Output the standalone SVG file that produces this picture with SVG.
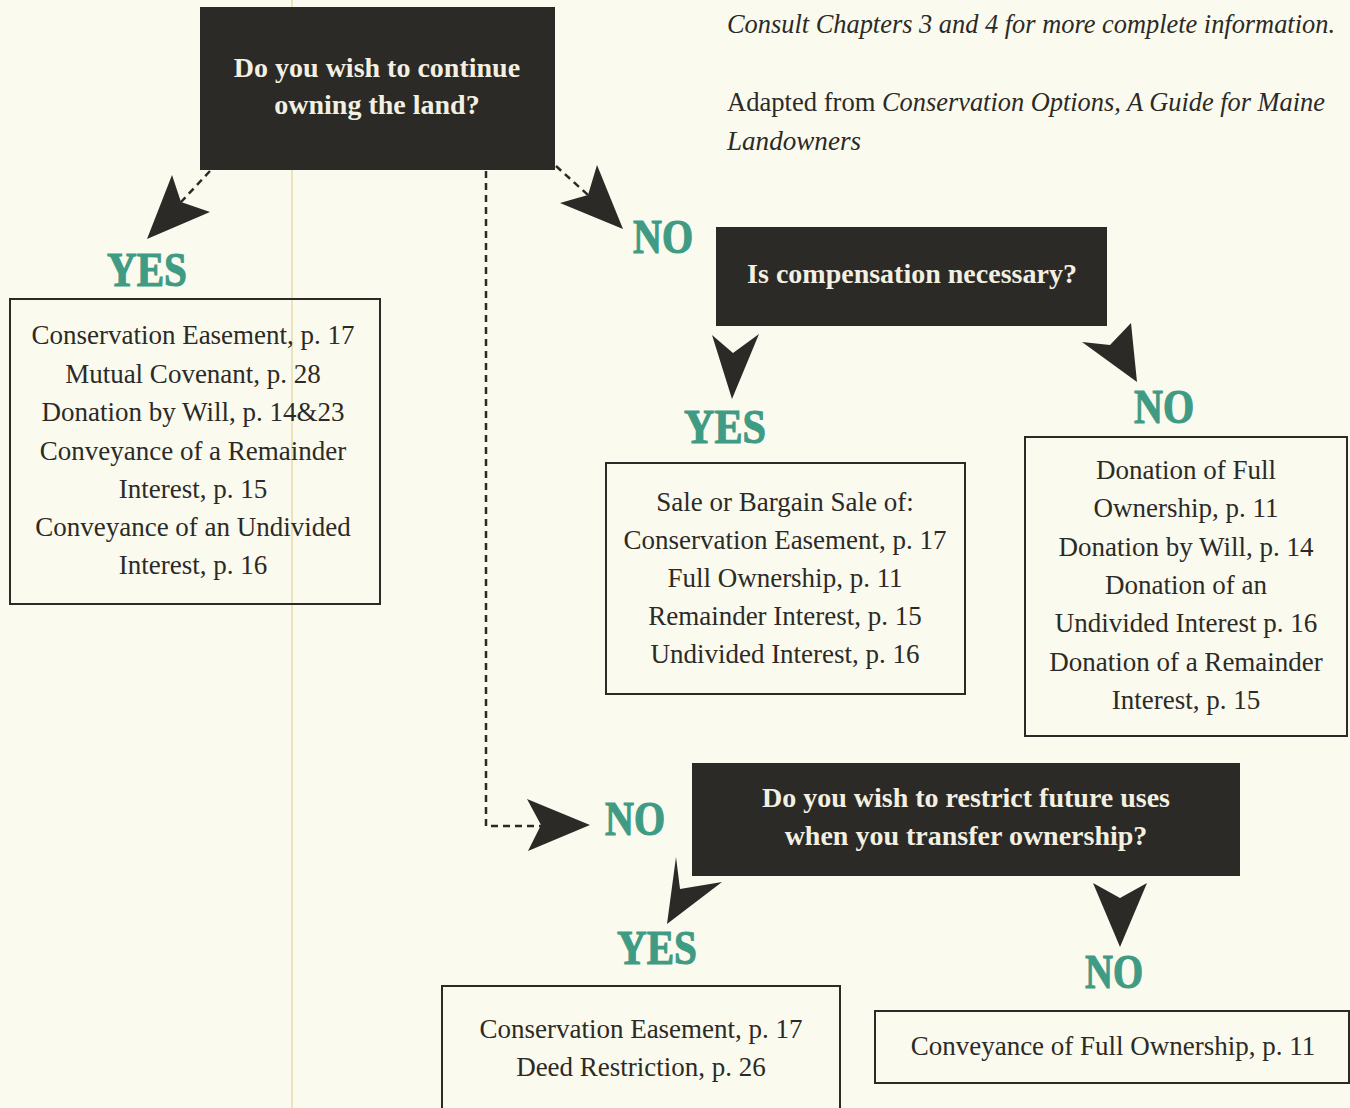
<svg xmlns="http://www.w3.org/2000/svg" width="1350" height="1108" viewBox="0 0 1350 1108">
<style>
.bg{fill:#fbfaee}
.q{fill:#2b2a26}
.qt{fill:#f3f0e2;font-family:"Liberation Serif",serif;font-weight:bold;font-size:28px;text-anchor:middle}
.box{fill:none;stroke:#2b2a26;stroke-width:2}
.bt{fill:#2b2a26;font-family:"Liberation Serif",serif;font-size:27px;text-anchor:middle}
.note{fill:#2b2a26;font-family:"Liberation Serif",serif;font-size:28px}
.lab{fill:#3f9b83;stroke:#3f9b83;stroke-width:1.2;font-family:"Liberation Serif",serif;font-weight:bold;font-size:49px}
.head{fill:#2b2a26}
.dash{fill:none;stroke:#2b2a26;stroke-width:2.5;stroke-dasharray:7 5}
</style>
<rect class="bg" x="0" y="0" width="1350" height="1108"/>
<line x1="292" y1="0" x2="292" y2="1108" stroke="#e6dca6" stroke-width="1.5"/>

<g id="note">
<text class="note" x="727" y="33" font-style="italic" textLength="608" lengthAdjust="spacingAndGlyphs">Consult Chapters 3 and 4 for more complete information.</text>
<text class="note" x="727" y="111"><tspan textLength="155" lengthAdjust="spacingAndGlyphs">Adapted from </tspan><tspan font-style="italic" textLength="443" lengthAdjust="spacingAndGlyphs">Conservation Options, A Guide for Maine</tspan></text>
<text class="note" x="727" y="150" font-style="italic" textLength="134" lengthAdjust="spacingAndGlyphs">Landowners</text>
</g>

<g id="q1">
<rect class="q" x="200" y="7" width="355" height="163"/>
<text class="qt" x="377" y="77">Do you wish to continue</text>
<text class="qt" x="377" y="114">owning the land?</text>
</g>

<g id="q2">
<rect class="q" x="716" y="227" width="391" height="99"/>
<text class="qt" x="912" y="283">Is compensation necessary?</text>
</g>

<g id="q3">
<rect class="q" x="692" y="763" width="548" height="113"/>
<text class="qt" x="966" y="807">Do you wish to restrict future uses</text>
<text class="qt" x="966" y="845">when you transfer ownership?</text>
</g>

<g id="r1">
<rect class="box" x="10" y="299" width="370" height="305"/>
<text class="bt" x="193" y="344">Conservation Easement, p. 17</text>
<text class="bt" x="193" y="383">Mutual Covenant, p. 28</text>
<text class="bt" x="193" y="421">Donation by Will, p. 14&amp;23</text>
<text class="bt" x="193" y="460">Conveyance of a Remainder</text>
<text class="bt" x="193" y="498">Interest, p. 15</text>
<text class="bt" x="193" y="536">Conveyance of an Undivided</text>
<text class="bt" x="193" y="574">Interest, p. 16</text>
</g>

<g id="r2">
<rect class="box" x="606" y="463" width="359" height="231"/>
<text class="bt" x="785" y="511">Sale or Bargain Sale of:</text>
<text class="bt" x="785" y="549">Conservation Easement, p. 17</text>
<text class="bt" x="785" y="587">Full Ownership, p. 11</text>
<text class="bt" x="785" y="625">Remainder Interest, p. 15</text>
<text class="bt" x="785" y="663">Undivided Interest, p. 16</text>
</g>

<g id="r3">
<rect class="box" x="1025" y="437" width="322" height="299"/>
<text class="bt" x="1186" y="479">Donation of Full</text>
<text class="bt" x="1186" y="517">Ownership, p. 11</text>
<text class="bt" x="1186" y="556">Donation by Will, p. 14</text>
<text class="bt" x="1186" y="594">Donation of an</text>
<text class="bt" x="1186" y="632">Undivided Interest p. 16</text>
<text class="bt" x="1186" y="671">Donation of a Remainder</text>
<text class="bt" x="1186" y="709">Interest, p. 15</text>
</g>

<g id="r4">
<rect class="box" x="442" y="986" width="398" height="130"/>
<text class="bt" x="641" y="1038">Conservation Easement, p. 17</text>
<text class="bt" x="641" y="1076">Deed Restriction, p. 26</text>
</g>

<g id="r5">
<rect class="box" x="875" y="1011" width="474" height="72"/>
<text class="bt" x="1113" y="1055">Conveyance of Full Ownership, p. 11</text>
</g>

<g id="connectors">
<path class="dash" d="M210 171 L181 202"/>
<polygon class="head" points="147,239 172,175 181,202 210,212"/>
<path class="dash" d="M556 166 L588 195"/>
<polygon class="head" points="623,229 597,165 588,195 560,203"/>
<path class="dash" d="M486 171 L486 826 L541 826"/>
<polygon class="head" points="590,825 527,799 541,825 528,851"/>
<polygon class="head" points="732,399 712,335 733,353 759,334"/>
<polygon class="head" points="1137,382 1131,323 1110,345 1082,342"/>
<polygon class="head" points="667,924 676,857 680,889 722,882"/>
<polygon class="head" points="1120,947 1093,883 1120,898 1147,883"/>
<text class="lab" x="107" y="286" textLength="80" lengthAdjust="spacingAndGlyphs">YES</text>
<text class="lab" x="633" y="253" textLength="60" lengthAdjust="spacingAndGlyphs">NO</text>
<text class="lab" x="684" y="443" textLength="82" lengthAdjust="spacingAndGlyphs">YES</text>
<text class="lab" x="1134" y="423" textLength="60" lengthAdjust="spacingAndGlyphs">NO</text>
<text class="lab" x="605" y="835" textLength="60" lengthAdjust="spacingAndGlyphs">NO</text>
<text class="lab" x="617" y="964" textLength="80" lengthAdjust="spacingAndGlyphs">YES</text>
<text class="lab" x="1085" y="988" textLength="58" lengthAdjust="spacingAndGlyphs">NO</text>
</g>
</svg>
